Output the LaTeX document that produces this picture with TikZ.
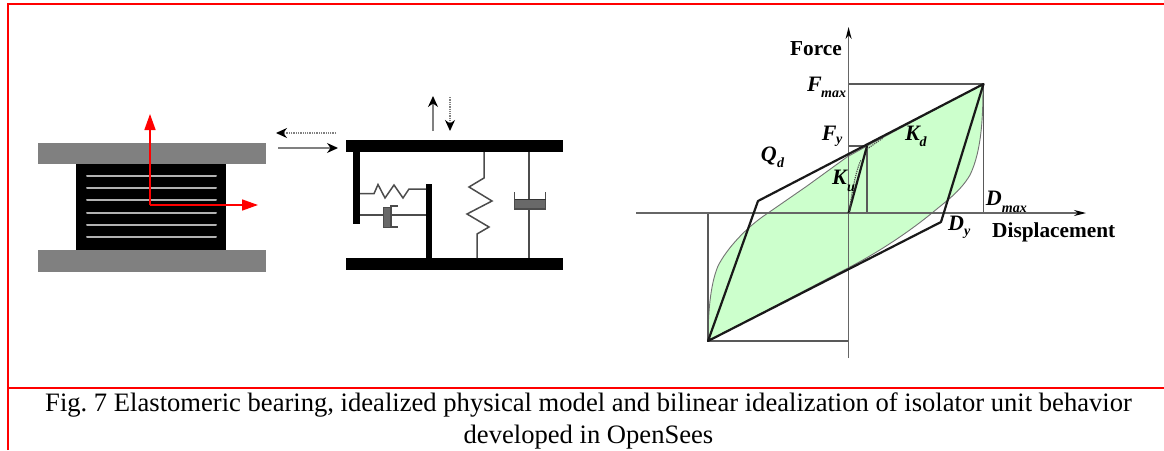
\documentclass[tikz,border=0pt]{standalone}
\usepackage{fontspec}
\setmainfont{Liberation Serif}
\usetikzlibrary{arrows.meta}
\definecolor{plate}{RGB}{128,128,128}
\definecolor{loopgreen}{RGB}{204,255,204}
\definecolor{dampgray}{RGB}{105,105,105}
\tikzset{
  x=1pt,y=-1pt,
  frame/.style={draw=red,line width=2.2pt},
  mech/.style={fill=black,draw=none},
  lam/.style={draw=black!30,line width=2pt,line cap=round},
  redarrow/.style={draw=red,line width=1.6pt,-{Triangle[length=16pt,width=11pt]}},
  wire/.style={draw=black!70,line width=1.5pt},
  force/.style={draw=black!50,line width=1.3pt,-{Stealth[black,length=11pt,width=10pt]}},
  forcedot/.style={force,densely dotted},
  axisline/.style={draw=black!60,line width=1.3pt},
  guide/.style={draw=black!65,line width=1.3pt},
  bilin/.style={draw=black!90,line width=2.2pt,line join=round},
  lab/.style={font=\bfseries\itshape\fontsize{22}{22}\selectfont,inner sep=0pt},
  sub/.style={font=\bfseries\itshape\fontsize{14}{14}\selectfont,inner sep=0pt},
  axlab/.style={font=\bfseries\fontsize{21.3}{22}\selectfont,inner sep=0pt}
}
\begin{document}
\begin{tikzpicture}
\useasboundingbox (0,0) rectangle (1164,450);
\fill[white] (0,0) rectangle (1164,450);
% frame
\draw[frame] (8,450) -- (8,4) -- (1164,4);
\draw[frame] (8,387.7) -- (1164,387.7);
% bearing
\fill[plate] (38,142.5) rectangle (266,164);
\fill[plate] (38,250) rectangle (266,272);
\fill[black] (75.5,164) rectangle (226,250);
\foreach \yy in {175.7,188,200,212.7,225,237}
  \draw[lam] (87,\yy) -- (216,\yy);
\coordinate (bo) at (150,205);
\coordinate (bu) at (150,114);
\coordinate (br) at (258,205);
\draw[redarrow] (bo) -- (bu);
\draw[redarrow] (bo) -- (br);
% force arrows
\coordinate (la) at (336,133); \coordinate (lb) at (276,133);
\coordinate (ra) at (278,148); \coordinate (rb) at (338,148);
\coordinate (ua) at (433,131); \coordinate (ub) at (433,96);
\coordinate (da) at (450,97);  \coordinate (db) at (450,131);
\draw[forcedot] (la) -- (lb);
\draw[force] (ra) -- (rb);
\draw[force] (ua) -- (ub);
\draw[forcedot] (da) -- (db);
% physical model
\fill[mech] (346,140) rectangle (563,152);
\fill[mech] (346,258) rectangle (563,270);
\fill[mech] (353,152) rectangle (360,224);
\fill[mech] (426,184) rectangle (432,258);
\draw[wire] (360,193.7) -- (374,193.7) -- (378,184.5) -- (385,198) -- (394,185) -- (403,198) -- (409,189) -- (426,189);
\draw[wire] (360,215) -- (383,215);
\draw[wire] (391,215) -- (426,215);
\fill[dampgray,draw=black!70,line width=.8pt] (383,207) rectangle (391,227);
\draw[wire,line width=1.1pt] (398,206) -- (391,206) -- (391,227) -- (398,227);
\draw[wire] (484,152) -- (484,178) -- (469,187) -- (492,201) -- (467,214) -- (489,227) -- (477,234) -- (477,258);
\draw[wire] (529,152) -- (529,258);
\fill[dampgray] (514.5,199) rectangle (545.5,209);
\draw[wire] (514.5,192) -- (514.5,209) -- (545.5,209) -- (545.5,192);
\draw[black!80,line width=1pt] (514.5,199) -- (545.5,199);
% hysteresis loop
\fill[loopgreen,draw=black!55,line width=.9pt] (708,341)
  .. controls (708,315) and (710,285) .. (718,266)
  .. controls (726,250) and (745,228) .. (768,213)
  -- (807,186) -- (847,157) -- (867,146) -- (983,84)
  .. controls (983,115) and (982,150) .. (970,175)
  .. controls (960,192) and (945,202) .. (932,213)
  .. controls (905,235) and (875,254) .. (848,268)
  -- cycle;
\coordinate (O) at (848.6,213);
\coordinate (dl) at (708,341);
\coordinate (dr) at (983.5,84);
\coordinate (fy) at (867,146);
% guides
\draw[guide] (848.6,84) -- (dr) -- (983.5,213);
\draw[guide] (848.6,146) -- (fy) -- (867,213);
\draw[guide] (708,213) -- (dl) -- (848.6,341);
% axes
\draw[axisline,-{Stealth[black,length=12pt,width=6pt]}] (636,213) -- (1086,213);
\draw[axisline,-{Stealth[black,length=12pt,width=6pt]}] (848.6,358) -- (848.6,27);
% bilinear
\draw[bilin] (dl) -- (758,201) -- (dr) -- (941,222) -- cycle;
\draw[bilin] (O) -- (fy);
\draw[black!70,line width=1.2pt,densely dotted] (849.5,213) .. controls (851,195) and (856,170) .. (861,160);
\draw[black!70,line width=1.2pt,densely dotted] (867,149) -- (883,138);
% labels
\node[axlab,anchor=base west] (force) at (790,55) {Force};
\node[axlab,anchor=base west] (disp) at (992,237) {Displacement};
\node[lab,anchor=base west] (fmax) at (807,91) {F};
\node[sub,anchor=base west] (fmaxs) at (821,97.7) {max};
\node[lab,anchor=base west] (fyl) at (821.7,140) {F};
\node[sub,anchor=base west] (fys) at (836,143) {y};
\node[lab,anchor=base west] (qd) at (760.7,161.7) {Q};
\node[sub,anchor=base west] (qds) at (777,167) {d};
\node[lab,anchor=base west] (kd) at (905,140) {K};
\node[sub,anchor=base west] (kds) at (919.5,146.7) {d};
\node[lab,anchor=base west] (ku) at (832,184) {K};
\node[sub,anchor=base west] (kus) at (847,191) {u};
\node[lab,anchor=base west] (dm) at (985.7,205.7) {D};
\node[sub,anchor=base west] (dms) at (1001.7,212) {max};
\node[lab,anchor=base west] (dy) at (948,230) {D};
\node[sub,anchor=base west] (dys) at (964,235) {y};
% caption
\node[font=\fontsize{26.6}{32}\selectfont\frenchspacing,align=center,inner sep=0pt,anchor=north] (cap) at (588.5,392.5)
  {Fig. 7 Elastomeric bearing, idealized physical model and bilinear idealization of isolator unit behavior\\ developed in OpenSees};
\end{tikzpicture}
\end{document}
